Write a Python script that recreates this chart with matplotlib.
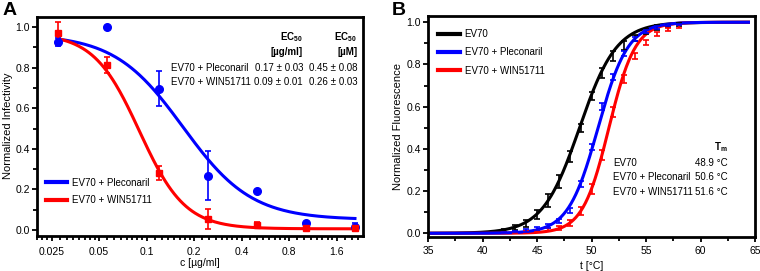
import numpy as np
import matplotlib
matplotlib.use("Agg")
import matplotlib.pyplot as plt
from matplotlib.ticker import FixedLocator, NullFormatter

plt.rcParams['font.family'] = ['Liberation Sans', 'DejaVu Sans']
plt.rcParams['mathtext.fontset'] = 'custom'
plt.rcParams['mathtext.rm'] = 'Liberation Sans'
plt.rcParams['mathtext.bf'] = 'Liberation Sans:bold'

# ---- panel A: infectivity vs concentration ----
conc = [0.0275, 0.056, 0.12, 0.244, 0.5, 1.02, 2.09]
plec_mean = [0.926, 1.0, 0.696, 0.268, 0.19, 0.033, 0.015]
plec_err = [0.02, 0.0, 0.087, 0.123, 0.0, 0.0, 0.02]
win_mean = [0.97, 0.814, 0.28, 0.054, 0.025, 0.008, 0.008]
win_err = [0.058, 0.04, 0.035, 0.05, 0.012, 0.006, 0.006]

# dose-response fit parameters (top, bottom, EC50, hill)
plec_fit = (0.965, 0.05, 0.17, 2.0)
win_fit = (0.97, 0.005, 0.09, 3.0)

ec50_rows = ["EV70 + Pleconaril", "EV70 + WIN51711"]
ec50_ugml = ["0.17 ± 0.03", "0.09 ± 0.01"]
ec50_um = ["0.45 ± 0.08", "0.26 ± 0.03"]

a_xticks = [0.025, 0.05, 0.1, 0.2, 0.4, 0.8, 1.6]
a_xticklabels = ["0.025", "0.05", "0.1", "0.2", "0.4", "0.8", "1.6"]

# ---- panel B: thermal melt ----
temps = [42, 43, 44, 45, 46, 47, 48, 49, 50, 51, 52, 53, 54, 55, 56, 57, 58]
ev70_mean = [0.014, 0.028, 0.047, 0.09, 0.155, 0.245, 0.365, 0.5, 0.65, 0.76, 0.84, 0.89, 0.925, 0.955, 0.975, 0.985, 0.99]
ev70_err = [0.008, 0.012, 0.018, 0.022, 0.03, 0.03, 0.025, 0.02, 0.02, 0.025, 0.025, 0.02, 0.015, 0.012, 0.01, 0.008, 0.006]
plec_t_mean = [0.004, 0.008, 0.013, 0.022, 0.035, 0.06, 0.11, 0.235, 0.41, 0.6, 0.74, 0.85, 0.92, 0.955, 0.975, 0.985, 0.99]
plec_t_err = [0.003, 0.004, 0.005, 0.006, 0.008, 0.01, 0.012, 0.015, 0.015, 0.015, 0.015, 0.012, 0.01, 0.008, 0.006, 0.005, 0.004]
win_t_mean = [0.002, 0.004, 0.007, 0.011, 0.018, 0.026, 0.05, 0.105, 0.21, 0.37, 0.575, 0.73, 0.84, 0.905, 0.945, 0.965, 0.98]
win_t_err = [0.002, 0.003, 0.004, 0.006, 0.008, 0.01, 0.015, 0.02, 0.025, 0.025, 0.025, 0.02, 0.015, 0.012, 0.01, 0.008, 0.006]

# Boltzmann fits (Tm, slope)
ev70_fit = (48.9, 1.7)
plec_t_fit = (50.6, 1.37)
win_t_fit = (51.6, 1.21)

tm_rows = ["EV70", "EV70 + Pleconaril", "EV70 + WIN51711"]
tm_vals = ["48.9 °C", "50.6 °C", "51.6 °C"]

BLUE = '#0000ff'
RED = '#ff0000'
FS = 7
TFS = 7.5


def hill(x, p):
    top, bottom, ec50, h = p
    return bottom + (top - bottom) / (1 + (x / ec50) ** h)


def boltzmann(t, p):
    tm, s = p
    return 1 / (1 + np.exp((tm - t) / s))


def style_axes(ax):
    for sp in ax.spines.values():
        sp.set_linewidth(2.0)
    ax.tick_params(which='both', direction='out', width=1.3, labelsize=TFS, color='black')
    ax.tick_params(which='major', length=3.5)
    ax.tick_params(which='minor', length=3.0)


fig = plt.figure(figsize=(7.6, 2.71), dpi=100)

# panel A
axA = fig.add_axes([37 / 760, 1 - 235.5 / 271, 326 / 760, 218.8 / 271])
style_axes(axA)
axA.set_xscale('log')
axA.set_xlim(0.0202, 2.35)
axA.set_ylim(-0.028, 1.052)

xs = np.geomspace(conc[0], conc[-1], 300)
axA.plot(xs, hill(xs, plec_fit), color=BLUE, lw=2.2, zorder=2)
axA.plot(xs, hill(xs, win_fit), color=RED, lw=2.2, zorder=2)
axA.errorbar(conc, plec_mean, yerr=plec_err, fmt='o', color=BLUE, ms=5.5,
             capsize=2.5, elinewidth=1.2, capthick=1.2, zorder=3)
axA.errorbar(conc, win_mean, yerr=win_err, fmt='s', color=RED, ms=5,
             capsize=2.5, elinewidth=1.2, capthick=1.2, zorder=3)

axA.xaxis.set_major_locator(FixedLocator(a_xticks))
axA.set_xticklabels(a_xticklabels)
minor = [t * (1 + j / 8) for t in [0.0125] + a_xticks for j in range(1, 8)]
axA.xaxis.set_minor_locator(FixedLocator(minor))
axA.xaxis.set_minor_formatter(NullFormatter())
axA.set_yticks([0.0, 0.2, 0.4, 0.6, 0.8, 1.0])
axA.set_yticks([0.1, 0.3, 0.5, 0.7, 0.9], minor=True)
axA.tick_params(axis='x', pad=5)
axA.tick_params(axis='y', pad=1.5)
axA.set_xlabel("c [µg/ml]", fontsize=7.5)
axA.set_ylabel("Normalized Infectivity", fontsize=8)
axA.xaxis.set_label_coords(0.5, -0.105)
axA.yaxis.set_label_coords(-0.074, 0.5)

hA = [plt.Line2D([], [], color=BLUE, lw=3), plt.Line2D([], [], color=RED, lw=3)]
axA.legend(hA, ec50_rows, loc='upper left', bbox_to_anchor=(0.027, 0.265),
           frameon=False, fontsize=FS, handlelength=2.2, handletextpad=0.45,
           borderpad=0, borderaxespad=0, labelspacing=0.8)

tA = axA.transAxes
axA.text(0.816, 0.907, r"$\mathbf{EC}_{\mathbf{50}}$", transform=tA, ha='right', va='center', fontsize=FS)
axA.text(0.816, 0.839, "[µg/ml]", transform=tA, ha='right', va='center', fontsize=FS, fontweight='bold')
axA.text(0.982, 0.907, r"$\mathbf{EC}_{\mathbf{50}}$", transform=tA, ha='right', va='center', fontsize=FS)
axA.text(0.982, 0.839, "[µM]", transform=tA, ha='right', va='center', fontsize=FS, fontweight='bold')
for i, (lab, v1, v2) in enumerate(zip(ec50_rows, ec50_ugml, ec50_um)):
    y = 0.766 - i * 0.064
    axA.text(0.412, y, lab, transform=tA, ha='left', va='center', fontsize=FS)
    axA.text(0.816, y, v1, transform=tA, ha='right', va='center', fontsize=FS)
    axA.text(0.982, y, v2, transform=tA, ha='right', va='center', fontsize=FS)

# panel B
axB = fig.add_axes([428 / 760, 1 - 237.3 / 271, 327 / 760, 221.6 / 271])
style_axes(axB)
axB.set_xlim(35, 65)
axB.set_ylim(-0.019, 1.031)

ts = np.linspace(35, 64.4, 400)
axB.plot(ts, boltzmann(ts, ev70_fit), color='black', lw=2.2, zorder=2)
axB.plot(ts, boltzmann(ts, win_t_fit), color=RED, lw=2.2, zorder=2)
axB.plot(ts, boltzmann(ts, plec_t_fit), color=BLUE, lw=2.2, zorder=2)
for m, e, c in [(ev70_mean, ev70_err, 'black'), (win_t_mean, win_t_err, RED),
                (plec_t_mean, plec_t_err, BLUE)]:
    axB.errorbar(temps, m, yerr=e, fmt='none', ecolor=c, capsize=2.5,
                 elinewidth=1.2, capthick=1.2, zorder=3)

axB.set_xticks([35, 40, 45, 50, 55, 60, 65])
axB.set_xticks([37.5, 42.5, 47.5, 52.5, 57.5, 62.5], minor=True)
axB.set_yticks([0.0, 0.2, 0.4, 0.6, 0.8, 1.0])
axB.set_yticks([0.1, 0.3, 0.5, 0.7, 0.9], minor=True)
axB.tick_params(axis='x', pad=3)
axB.tick_params(axis='y', pad=1.5)
axB.set_xlabel("t [°C]", fontsize=7.5)
axB.set_ylabel("Normalized Fluorescence", fontsize=8)
axB.xaxis.set_label_coords(0.5, -0.107)
axB.yaxis.set_label_coords(-0.076, 0.5)

hB = [plt.Line2D([], [], color='black', lw=3), plt.Line2D([], [], color=BLUE, lw=3),
      plt.Line2D([], [], color=RED, lw=3)]
axB.legend(hB, tm_rows, loc='upper left', bbox_to_anchor=(0.03, 0.94),
           frameon=False, fontsize=FS, handlelength=2.3, handletextpad=0.45,
           borderpad=0, borderaxespad=0, labelspacing=0.85)

tB = axB.transAxes
axB.text(0.917, 0.407, r"$\mathbf{T}_{\mathbf{m}}$", transform=tB, ha='right', va='center', fontsize=FS)
for i, (lab, v) in enumerate(zip(tm_rows, tm_vals)):
    y = 0.335 - i * 0.0645
    axB.text(0.565, y, lab, transform=tB, ha='left', va='center', fontsize=FS)
    axB.text(0.917, y, v, transform=tB, ha='right', va='center', fontsize=FS)

fig.text(3 / 760, 1 - 2 / 271, "A", fontsize=14, fontweight='bold', ha='left', va='top')
fig.text(392 / 760, 1 - 2 / 271, "B", fontsize=14, fontweight='bold', ha='left', va='top')

fig.savefig("out.png", dpi=100)
